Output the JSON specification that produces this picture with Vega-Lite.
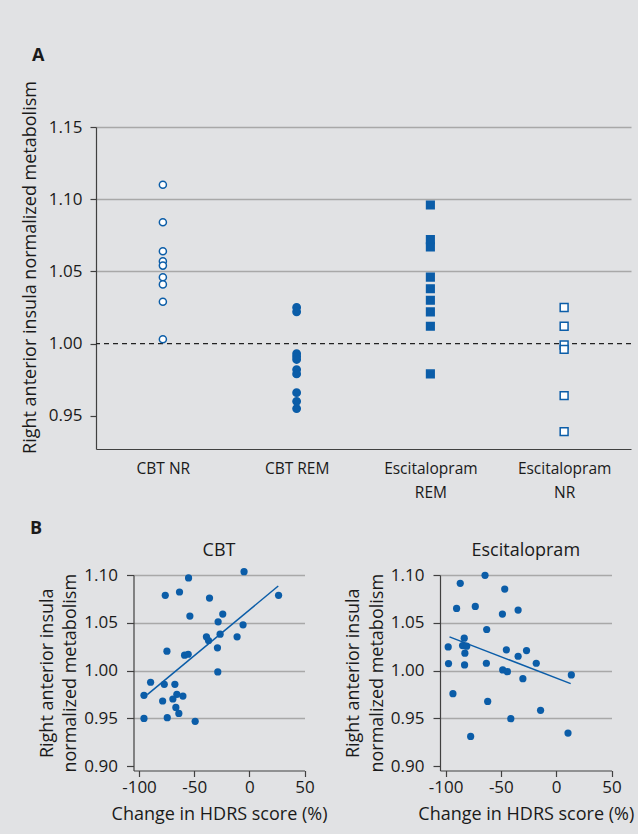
{
  "$schema": "https://vega.github.io/schema/vega-lite/v6.json",
  "background": "#e1e2e4",
  "padding": {"left": 21, "top": 46, "right": 5, "bottom": 10},
  "config": {
    "font": "Open Sans",
    "view": {"stroke": null},
    "locale": {"number": {"decimal": ".", "thousands": ",", "grouping": [3], "currency": ["$", ""], "minus": "-"}},
    "axis": {
      "labelFont": "Open Sans", "titleFont": "Open Sans",
      "labelColor": "#1a1a1a", "titleColor": "#1a1a1a",
      "domainColor": "#404040", "tickColor": "#404040",
      "gridColor": "#a8a8a8", "gridWidth": 1.5,
      "domainWidth": 1.2, "tickWidth": 1.2,
      "titleFontWeight": "normal"
    },
    "title": {"font": "Open Sans", "color": "#1a1a1a"}
  },
  "columns": 1,
  "align": "none",
  "spacing": 18,
  "concat": [
    {
      "width": 535,
      "height": 322,
      "title": {"text": "A", "anchor": "start", "frame": "group", "dx": -64, "fontSize": 18, "fontWeight": "bold", "baseline": "alphabetic", "offset": 2},
      "layer": [
        {
          "data": {"values": [{"value": 1.0}]},
          "mark": {"type": "rule", "strokeDash": [5, 4], "color": "#222222", "strokeWidth": 1.3},
          "encoding": {
            "y": {
              "field": "value", "type": "quantitative",
              "scale": {"domain": [0.927, 1.15], "nice": false, "zero": false},
              "axis": {
                "values": [0.95, 1.0, 1.05, 1.1, 1.15], "format": ".2f",
                "title": "Right anterior insula normalized metabolism",
                "titleFontSize": 18, "titlePadding": 9, "titleY": 140,
                "labelFontSize": 17, "labelPadding": 8, "tickSize": 6,
                "grid": true,
                "gridOpacity": {"condition": {"test": "datum.value < 1.01", "value": 0}, "value": 1}
              }
            }
          }
        },
        {
          "data": {"values": [
            {"group": "CBT NR", "value": 1.110},
            {"group": "CBT NR", "value": 1.084},
            {"group": "CBT NR", "value": 1.064},
            {"group": "CBT NR", "value": 1.057},
            {"group": "CBT NR", "value": 1.054},
            {"group": "CBT NR", "value": 1.046},
            {"group": "CBT NR", "value": 1.041},
            {"group": "CBT NR", "value": 1.029},
            {"group": "CBT NR", "value": 1.003},
            {"group": "CBT REM", "value": 1.025},
            {"group": "CBT REM", "value": 1.022},
            {"group": "CBT REM", "value": 0.993},
            {"group": "CBT REM", "value": 0.991},
            {"group": "CBT REM", "value": 0.989},
            {"group": "CBT REM", "value": 0.982},
            {"group": "CBT REM", "value": 0.979},
            {"group": "CBT REM", "value": 0.966},
            {"group": "CBT REM", "value": 0.960},
            {"group": "CBT REM", "value": 0.955},
            {"group": "Escitalopram REM", "value": 1.096},
            {"group": "Escitalopram REM", "value": 1.072},
            {"group": "Escitalopram REM", "value": 1.067},
            {"group": "Escitalopram REM", "value": 1.046},
            {"group": "Escitalopram REM", "value": 1.038},
            {"group": "Escitalopram REM", "value": 1.030},
            {"group": "Escitalopram REM", "value": 1.022},
            {"group": "Escitalopram REM", "value": 1.012},
            {"group": "Escitalopram REM", "value": 0.979},
            {"group": "Escitalopram NR", "value": 1.025},
            {"group": "Escitalopram NR", "value": 1.012},
            {"group": "Escitalopram NR", "value": 0.999},
            {"group": "Escitalopram NR", "value": 0.996},
            {"group": "Escitalopram NR", "value": 0.964},
            {"group": "Escitalopram NR", "value": 0.939}
          ]},
          "mark": {"type": "point", "filled": true, "stroke": "#0b5da8", "strokeWidth": 1.5, "opacity": 1},
          "encoding": {
            "x": {
              "field": "group", "type": "nominal",
              "sort": ["CBT NR", "CBT REM", "Escitalopram REM", "Escitalopram NR"],
              "scale": {"padding": 0.5},
              "axis": {
                "title": null, "ticks": false, "tickSize": 0, "labelAngle": 0,
                "labelFontSize": 15.5, "labelPadding": 12, "labelLineHeight": 24,
                "labelExpr": "indexof(datum.label, 'Escitalopram') == 0 ? split(datum.label, ' ') : datum.label",
                "grid": false
              }
            },
            "y": {
              "field": "value", "type": "quantitative",
              "scale": {"domain": [0.927, 1.15], "nice": false, "zero": false},
              "axis": {
                "values": [0.95, 1.0, 1.05, 1.1, 1.15], "format": ".2f",
                "title": "Right anterior insula normalized metabolism",
                "titleFontSize": 18, "titlePadding": 9, "titleY": 140,
                "labelFontSize": 17, "labelPadding": 8, "tickSize": 6,
                "grid": true,
                "gridOpacity": {"condition": {"test": "datum.value < 1.01", "value": 0}, "value": 1}
              }
            },
            "shape": {
              "field": "group", "type": "nominal", "legend": null,
              "scale": {"domain": ["CBT NR", "CBT REM", "Escitalopram REM", "Escitalopram NR"], "range": ["circle", "circle", "square", "square"]}
            },
            "fill": {
              "field": "group", "type": "nominal", "legend": null,
              "scale": {"domain": ["CBT NR", "CBT REM", "Escitalopram REM", "Escitalopram NR"], "range": ["#ffffff", "#0b5da8", "#0b5da8", "#ffffff"]}
            },
            "size": {
              "field": "group", "type": "nominal", "legend": null,
              "scale": {"domain": ["CBT NR", "CBT REM", "Escitalopram REM", "Escitalopram NR"], "range": [50, 62, 56, 46]}
            }
          }
        }
      ]
    },
    {
      "title": {"text": "B", "anchor": "start", "frame": "group", "dx": -66, "fontSize": 18, "fontWeight": "bold", "baseline": "alphabetic", "offset": -10},
      "spacing": 17,
      "hconcat": [
        {
          "width": 208.5,
          "height": 195.5,
          "title": {"text": "CBT", "anchor": "middle", "dx": 18.75, "fontSize": 18, "fontWeight": "normal", "baseline": "alphabetic", "offset": -7.5},
          "layer": [
            {
              "data": {"values": [
                {"change": -4.8, "metabolism": 1.1035},
                {"change": -55.1, "metabolism": 1.0969},
                {"change": -76.2, "metabolism": 1.0787},
                {"change": -63.3, "metabolism": 1.0822},
                {"change": -36.1, "metabolism": 1.0759},
                {"change": 26.5, "metabolism": 1.0787},
                {"change": -53.9, "metabolism": 1.057},
                {"change": -24.1, "metabolism": 1.0591},
                {"change": -28.3, "metabolism": 1.051},
                {"change": -5.7, "metabolism": 1.0479},
                {"change": -38.9, "metabolism": 1.0353},
                {"change": -37.0, "metabolism": 1.0315},
                {"change": -26.5, "metabolism": 1.0381},
                {"change": -11.1, "metabolism": 1.0353},
                {"change": -74.7, "metabolism": 1.0203},
                {"change": -58.7, "metabolism": 1.0161},
                {"change": -55.4, "metabolism": 1.0171},
                {"change": -28.9, "metabolism": 1.0238},
                {"change": -28.6, "metabolism": 0.9986},
                {"change": -89.5, "metabolism": 0.9878},
                {"change": -77.1, "metabolism": 0.9857},
                {"change": -67.5, "metabolism": 0.9857},
                {"change": -95.5, "metabolism": 0.9741},
                {"change": -65.7, "metabolism": 0.9752},
                {"change": -69.3, "metabolism": 0.9703},
                {"change": -60.2, "metabolism": 0.9734},
                {"change": -78.6, "metabolism": 0.9682},
                {"change": -66.6, "metabolism": 0.9615},
                {"change": -63.9, "metabolism": 0.9552},
                {"change": -95.5, "metabolism": 0.95},
                {"change": -74.4, "metabolism": 0.9507},
                {"change": -49.1, "metabolism": 0.9469}
              ]},
              "mark": {"type": "circle", "color": "#0b5da8", "size": 52, "opacity": 1},
              "encoding": {
                "x": {
                  "field": "change", "type": "quantitative",
                  "scale": {"domain": [-105, 50], "range": [37.5, 208.5], "nice": false, "zero": false},
                  "axis": {"values": [-100, -50, 0, 50], "title": "Change in HDRS score (%)", "titleFontSize": 18, "titlePadding": 10, "labelFontSize": 17, "labelPadding": 3, "tickSize": 6, "grid": false, "labelFlush": false, "labelOverlap": false}
                },
                "y": {
                  "field": "metabolism", "type": "quantitative",
                  "scale": {"domain": [0.8955, 1.1], "nice": false, "zero": false},
                  "axis": {
                    "values": [0.9, 0.95, 1.0, 1.05, 1.1], "format": ".2f", "offset": -37.5,
                    "title": ["Right anterior insula", "normalized metabolism"],
                    "titleFontSize": 18, "titleLineHeight": 23.5, "titlePadding": 4,
                    "labelFontSize": 17, "labelPadding": 9, "tickSize": 7,
                    "grid": true,
                    "gridOpacity": {"condition": {"test": "datum.value < 0.92", "value": 0}, "value": 1}
                  }
                }
              }
            },
            {
              "data": {"values": [
                {"change": -92.5, "metabolism": 0.9748},
                {"change": 26.2, "metabolism": 1.0885}
              ]},
              "mark": {"type": "line", "color": "#0b5da8", "strokeWidth": 1.5},
              "encoding": {
                "x": {"field": "change", "type": "quantitative"},
                "y": {"field": "metabolism", "type": "quantitative"}
              }
            }
          ]
        },
        {
          "width": 171.5,
          "height": 195.5,
          "title": {"text": "Escitalopram", "anchor": "middle", "fontSize": 18, "fontWeight": "normal", "baseline": "alphabetic", "offset": -7.5},
          "layer": [
            {
              "data": {"values": [
                {"change": -64.3, "metabolism": 1.0997},
                {"change": -86.7, "metabolism": 1.0913},
                {"change": -46.5, "metabolism": 1.0853},
                {"change": -90.0, "metabolism": 1.065},
                {"change": -73.1, "metabolism": 1.0671},
                {"change": -48.6, "metabolism": 1.0591},
                {"change": -34.4, "metabolism": 1.0633},
                {"change": -62.8, "metabolism": 1.043},
                {"change": -83.1, "metabolism": 1.0339},
                {"change": -97.6, "metabolism": 1.0248},
                {"change": -84.6, "metabolism": 1.0262},
                {"change": -80.9, "metabolism": 1.0255},
                {"change": -82.5, "metabolism": 1.0182},
                {"change": -45.0, "metabolism": 1.0217},
                {"change": -26.8, "metabolism": 1.021},
                {"change": -34.4, "metabolism": 1.015},
                {"change": -97.3, "metabolism": 1.0073},
                {"change": -82.8, "metabolism": 1.0059},
                {"change": -63.1, "metabolism": 1.0077},
                {"change": -18.0, "metabolism": 1.0077},
                {"change": -48.3, "metabolism": 1.0007},
                {"change": -44.1, "metabolism": 0.9989},
                {"change": -30.1, "metabolism": 0.9916},
                {"change": 13.7, "metabolism": 0.9955},
                {"change": -93.3, "metabolism": 0.9759},
                {"change": -61.9, "metabolism": 0.9678},
                {"change": -14.1, "metabolism": 0.9584},
                {"change": -41.0, "metabolism": 0.9497},
                {"change": -77.3, "metabolism": 0.9311},
                {"change": 10.7, "metabolism": 0.9346}
              ]},
              "mark": {"type": "circle", "color": "#0b5da8", "size": 52, "opacity": 1},
              "encoding": {
                "x": {
                  "field": "change", "type": "quantitative",
                  "scale": {"domain": [-105, 50], "nice": false, "zero": false},
                  "axis": {"values": [-100, -50, 0, 50], "title": "Change in HDRS score (%)", "titleFontSize": 18, "titlePadding": 10, "labelFontSize": 17, "labelPadding": 3, "tickSize": 6, "grid": false, "labelFlush": false, "labelOverlap": false}
                },
                "y": {
                  "field": "metabolism", "type": "quantitative",
                  "scale": {"domain": [0.8955, 1.1], "nice": false, "zero": false},
                  "axis": {
                    "values": [0.9, 0.95, 1.0, 1.05, 1.1], "format": ".2f",
                    "title": ["Right anterior insula", "normalized metabolism"],
                    "titleFontSize": 18, "titleLineHeight": 24, "titlePadding": 4,
                    "labelFontSize": 17, "labelPadding": 9, "tickSize": 7,
                    "grid": true,
                    "gridOpacity": {"condition": {"test": "datum.value < 0.92", "value": 0}, "value": 1}
                  }
                }
              }
            },
            {
              "data": {"values": [
                {"change": -96.4, "metabolism": 1.0353},
                {"change": 13.1, "metabolism": 0.9864}
              ]},
              "mark": {"type": "line", "color": "#0b5da8", "strokeWidth": 1.5},
              "encoding": {
                "x": {"field": "change", "type": "quantitative"},
                "y": {"field": "metabolism", "type": "quantitative"}
              }
            }
          ]
        }
      ]
    }
  ]
}
